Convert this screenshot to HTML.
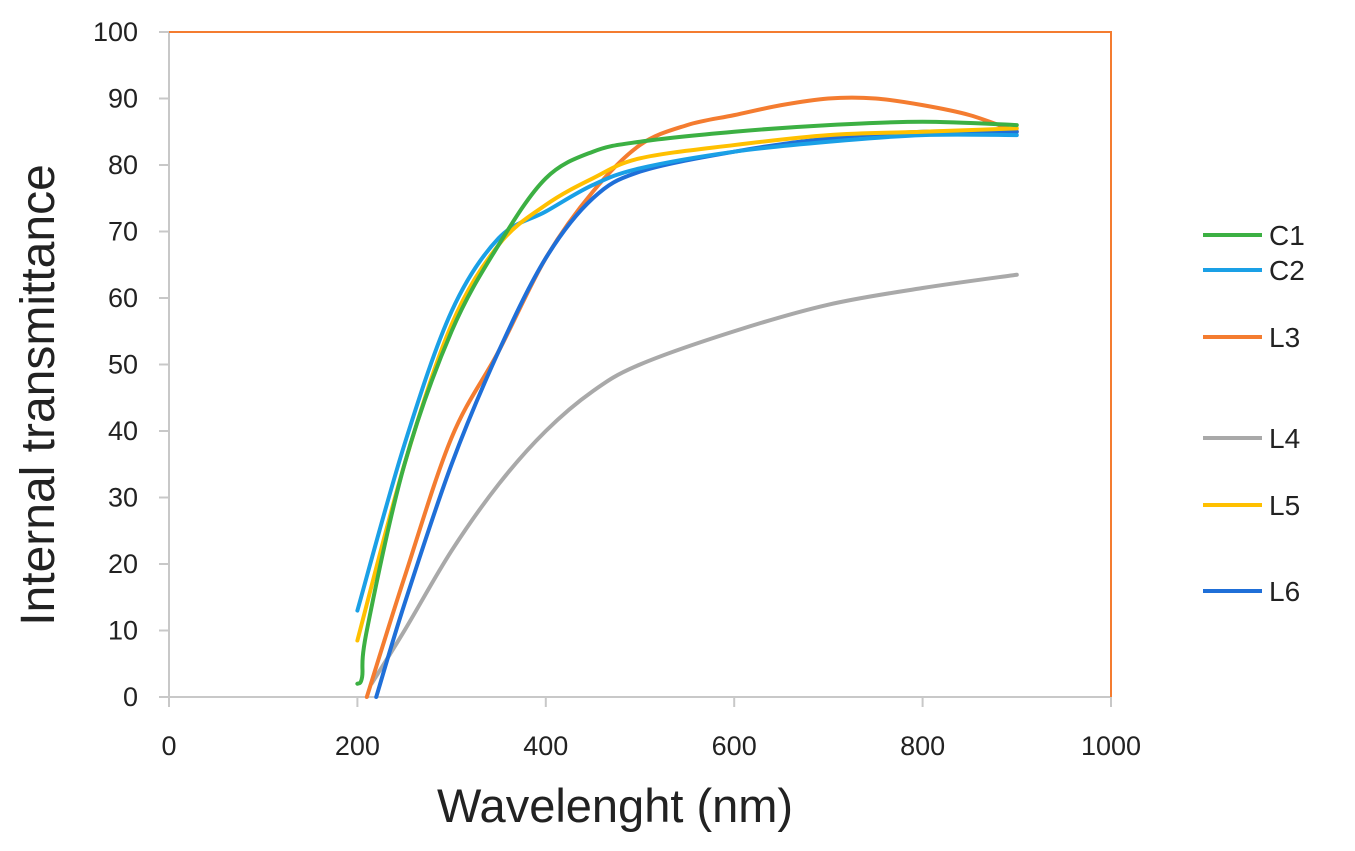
<!DOCTYPE html>
<html><head><meta charset="utf-8"><style>
body{margin:0;background:#fff;}
svg{display:block;font-family:"Liberation Sans",sans-serif;}
</style></head><body>
<svg width="1355" height="851" viewBox="0 0 1355 851">
<g id="axes"></g>
<g id="series"></g>
<g id="legend"></g>
<text x="615" y="822" font-size="47" text-anchor="middle" fill="#222">Wavelenght (nm)</text>
<text transform="translate(54,395) rotate(-90)" font-size="48" text-anchor="middle" fill="#222">Internal transmittance</text>
</svg>
<script>
const xTicks=[0,200,400,600,800,1000];
const yTicks=[0,10,20,30,40,50,60,70,80,90,100];
const seriesNames=["C1","C2","L3","L4","L5","L6"];
const seriesColors=["#3cb043","#1aa0e6","#f47c30","#a9a9a9","#ffc000","#1f6fd8"];
const c1X=[200,205,210,250,300,350,400,450,500,600,700,800,900];
const c1Y=[2,3,10,35,55,68,78,82,83.5,85,86,86.5,86];
const c2X=[200,250,300,350,400,450,500,600,700,800,900];
const c2Y=[13,38,58,69,73,77,79.5,82,83.5,84.5,84.5];
const l3X=[210,250,300,350,400,450,500,550,600,650,700,750,800,850,900];
const l3Y=[0,18,39,52,66,76,83,86,87.5,89,90,90,89,87.5,85];
const l4X=[215,250,300,350,400,450,500,600,700,800,900];
const l4Y=[2,10,22,32,40,46,50,55,59,61.5,63.5];
const l5X=[200,250,300,350,400,450,500,600,700,800,900];
const l5Y=[8.5,35,56,68,74,78,81,83,84.5,85,85.5];
const l6X=[220,250,300,350,400,450,500,600,700,800,900];
const l6Y=[0,14,35,52,66,75,79,82,84,85,85];
const legendY=[235,270,337,438,505,591];
const NS="http://www.w3.org/2000/svg";
const X=v=>169+v*0.942, Y=v=>697-v*6.65;
function mk(t,a,p){const e=document.createElementNS(NS,t);for(const k in a)e.setAttribute(k,a[k]);p.appendChild(e);return e;}
const ax=document.getElementById('axes');
const ya=mk('line',{x1:169,y1:32,x2:169,y2:697,stroke:'#c8c8c8','stroke-width':2},ax);


const xa=mk('line',{x1:169,y1:697,x2:1111,y2:697,stroke:'#c8c8c8','stroke-width':2},ax);


const fr=mk('polyline',{points:`169,32 1111,32 1111,697`,fill:'none',stroke:'#f47c30','stroke-width':2},ax);


yTicks.forEach(v=>{
 mk('line',{x1:159,y1:Y(v),x2:169,y2:Y(v),stroke:'#c8c8c8','stroke-width':2},ax);
 const t=mk('text',{x:138,y:Y(v)+9,'font-size':27,'text-anchor':'end',fill:'#222'},ax);t.textContent=v;
 
 
});
xTicks.forEach(v=>{
 mk('line',{x1:X(v),y1:697,x2:X(v),y2:707,stroke:'#c8c8c8','stroke-width':2},ax);
 const t=mk('text',{x:X(v),y:755,'font-size':27,'text-anchor':'middle',fill:'#222'},ax);t.textContent=v;
 
 
});
function path(xs,ys){const p=xs.map((x,i)=>[X(x),Y(ys[i])]);let d=`M${p[0][0]},${p[0][1]}`;
 for(let i=0;i<p.length-1;i++){const p0=p[i-1]||p[i],p1=p[i],p2=p[i+1],p3=p[i+2]||p2;
 const c1=[p1[0]+(p2[0]-p0[0])/6,p1[1]+(p2[1]-p0[1])/6],c2=[p2[0]-(p3[0]-p1[0])/6,p2[1]-(p3[1]-p1[1])/6];
 d+=` C${c1[0]},${c1[1]} ${c2[0]},${c2[1]} ${p2[0]},${p2[1]}`;}return d;}
const data=[[c1X,c1Y],[c2X,c2Y],[l3X,l3Y],[l4X,l4Y],[l5X,l5Y],[l6X,l6Y]];
const order=[3,2,5,1,4,0];
const sg=document.getElementById('series');
order.forEach(i=>{
 const e=mk('path',{d:path(data[i][0],data[i][1]),fill:'none',stroke:seriesColors[i],'stroke-width':4,'stroke-linecap':'round'},sg);
 
 
});
const lg=document.getElementById('legend');
seriesNames.forEach((n,i)=>{
 const g=mk('g',{},lg);
 
 
 mk('line',{x1:1203,y1:legendY[i],x2:1262,y2:legendY[i],stroke:seriesColors[i],'stroke-width':4},g);
 const t=mk('text',{x:1269,y:legendY[i]+10,'font-size':28,fill:'#222'},g);t.textContent=n;
});
</script>
</body></html>
